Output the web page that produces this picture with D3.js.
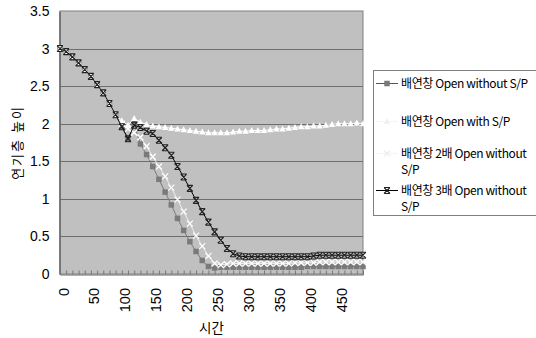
<!DOCTYPE html>
<html>
<head>
<meta charset="utf-8">
<script src="https://cdn.jsdelivr.net/npm/d3@7"></script>
<style>
  body { margin: 0; background: #fff; }
  svg { display: block; }
  text { font-family: "Liberation Sans", Arial, sans-serif; fill: #000; }
  .kr { font-family: "Noto Sans CJK KR", "Noto Sans", sans-serif; }
</style>
</head>
<body>
<svg id="chart" width="536" height="338"></svg>
<script>
// time axis (categories) 0..490 step 10
var times = [0,10,20,30,40,50,60,70,80,90,100,110,120,130,140,150,160,170,180,190,
             200,210,220,230,240,250,260,270,280,290,300,310,320,330,340,350,360,370,380,390,
             400,410,420,430,440,450,460,470,480,490];
var xTickLabels = [0,50,100,150,200,250,300,350,400,450];
var yTicks = [0,0.5,1,1.5,2,2.5,3,3.5];

var seriesNames = ["배연창 Open without S/P", "배연창 Open with S/P",
                   "배연창 2배 Open without S/P", "배연창 3배 Open without S/P"];

var openNoSP = [3.00,2.96,2.89,2.81,2.72,2.63,2.52,2.41,2.27,2.12,
                1.96,1.80,2.00,1.73,1.59,1.43,1.26,1.09,0.92,0.74,
                0.58,0.43,0.30,0.18,0.10,0.08,0.09,0.09,0.09,0.09,
                0.09,0.09,0.09,0.09,0.09,0.09,0.09,0.09,0.09,0.09,
                0.10,0.10,0.10,0.10,0.10,0.10,0.10,0.10,0.10,0.10];
var openSP =   [3.00,2.96,2.89,2.81,2.72,2.63,2.52,2.41,2.27,2.12,
                2.04,1.98,2.07,2.02,1.99,1.97,1.96,1.95,1.94,1.93,
                1.92,1.91,1.90,1.89,1.88,1.88,1.88,1.88,1.89,1.90,
                1.90,1.91,1.91,1.91,1.92,1.93,1.93,1.94,1.95,1.96,
                1.96,1.97,1.97,1.98,1.99,2.00,2.00,2.00,2.01,2.00];
var open2x =   [3.00,2.96,2.89,2.81,2.72,2.63,2.52,2.41,2.27,2.12,
                2.00,1.93,1.88,1.82,1.70,1.56,1.43,1.30,1.15,0.99,
                0.83,0.67,0.51,0.37,0.24,0.14,0.12,0.13,0.14,0.14,
                0.14,0.14,0.14,0.14,0.14,0.14,0.14,0.14,0.15,0.15,
                0.15,0.15,0.16,0.16,0.16,0.16,0.16,0.16,0.16,0.16];
var open3x =   [3.00,2.96,2.89,2.81,2.72,2.63,2.52,2.41,2.27,2.12,
                1.96,1.80,1.98,1.95,1.90,1.87,1.78,1.68,1.58,1.43,
                1.29,1.14,0.98,0.83,0.69,0.56,0.45,0.34,0.27,0.24,
                0.23,0.23,0.23,0.23,0.23,0.23,0.23,0.23,0.23,0.23,
                0.23,0.24,0.25,0.25,0.25,0.25,0.25,0.25,0.25,0.25];

var seriesValues = [openNoSP, openSP, open2x, open3x];
var styles = [
  {line: "#7a7a7a", fill: "#7a7a7a", stroke: "#7a7a7a", marker: "square"},
  {line: "#ffffff", fill: "#ffffff", stroke: "#ffffff", marker: "triangle"},
  {line: "#f0f0f0", fill: "none",    stroke: "#ffffff", marker: "x"},
  {line: "#000000", fill: "none",    stroke: "#222222", marker: "star"}
];

var svg = d3.select("#chart");
var pLeft = 60, pRight = 363, pTop = 11, pBottom = 274;

var x = d3.scalePoint().domain(times).range([pLeft, pRight]);
var y = d3.scaleLinear().domain([0, 3.5]).range([pBottom, pTop]);

// plot background
svg.append("rect")
    .attr("x", pLeft).attr("y", pTop)
    .attr("width", pRight - pLeft).attr("height", pBottom - pTop)
    .attr("fill", "#c0c0c0")
    .attr("stroke", "#808080").attr("stroke-width", 1);

// gridlines
svg.append("g")
  .selectAll("line")
  .data(yTicks.slice(1, -1))
  .enter().append("line")
    .attr("x1", pLeft).attr("x2", pRight)
    .attr("y1", function(d) { return Math.round(y(d)) + 0.5; })
    .attr("y2", function(d) { return Math.round(y(d)) + 0.5; })
    .attr("stroke", "#6e6e6e").attr("stroke-width", 1);

// y axis
var yAxis = svg.append("g")
    .attr("transform", "translate(" + (pLeft - 0.5) + ",0)")
    .call(d3.axisLeft(y).tickValues(yTicks).tickSize(0).tickPadding(10)
          .tickFormat(function(d) { return d; }));
yAxis.select(".domain").attr("stroke", "#666").attr("stroke-width", 1.5);
yAxis.selectAll("text").style("font-size", "14px").style("font-family", "Liberation Sans, Arial, sans-serif");

// x axis (ticks inside, labels rotated)
var xAxis = svg.append("g")
    .attr("transform", "translate(0," + (pBottom + 0.5) + ")")
    .call(d3.axisBottom(x).tickSize(-4).tickFormat(""));
xAxis.select(".domain").attr("stroke", "#666");
xAxis.selectAll(".tick line").attr("stroke", "#777");

svg.append("g")
  .selectAll("text")
  .data(xTickLabels)
  .enter().append("text")
    .attr("transform", function(d) { return "translate(" + (x(d) + 8.5) + "," + (pBottom + 14) + ") rotate(-90)"; })
    .attr("text-anchor", "end")
    .style("font-size", "14.5px")
    .text(function(d) { return d; });

// axis titles
svg.append("text")
    .attr("class", "kr")
    .attr("transform", "translate(22," + ((pTop + pBottom) / 2) + ") rotate(-90)")
    .attr("text-anchor", "middle")
    .style("font-size", "13px")
    .style("letter-spacing", "2px")
    .text("연기층 높이");

svg.append("text")
    .attr("class", "kr")
    .attr("x", (pLeft + pRight) / 2).attr("y", 333)
    .attr("text-anchor", "middle")
    .style("font-size", "13.5px")
    .text("시간");

// markers
function drawMarker(g, type, st) {
  if (type == "square") {
    g.append("rect").attr("x", -2.75).attr("y", -2.75).attr("width", 5.5).attr("height", 5.5)
      .attr("fill", st.fill);
  } else if (type == "triangle") {
    g.append("path").attr("d", "M0,-3.5L3.2,2.5L-3.2,2.5Z").attr("fill", st.fill);
  } else if (type == "x") {
    g.append("path").attr("d", "M-3,-3L3,3M3,-3L-3,3")
      .attr("stroke", st.stroke).attr("stroke-width", 1.2).attr("fill", "none");
  } else {
    g.append("path").attr("d", "M-3,-3L3,3M3,-3L-3,3M-3,-3L3,-3M-3,3L3,3")
      .attr("stroke", st.stroke).attr("stroke-width", 1.1).attr("fill", "none");
  }
}

var line = d3.line()
    .x(function(d, i) { return x(times[i]); })
    .y(function(d) { return y(d); });

seriesValues.map(function(vals, s) {
  var st = styles[s];
  var g = svg.append("g");
  g.append("path")
      .datum(vals)
      .attr("d", line)
      .attr("fill", "none")
      .attr("stroke", st.line)
      .attr("stroke-width", 1);
  vals.map(function(v, i) {
    var m = g.append("g").attr("transform", "translate(" + x(times[i]) + "," + y(v) + ")");
    drawMarker(m, st.marker, st);
  });
});

// legend
var legend = svg.append("g");
legend.append("rect")
    .attr("x", 373.5).attr("y", 70.5).attr("width", 170).attr("height", 145)
    .attr("fill", "#fff").attr("stroke", "#808080");

var legendRows = [
  {lines: ["배연창 Open without S/P"], y: 83},
  {lines: ["배연창 Open with S/P"], y: 121},
  {lines: ["배연창 2배 Open without", "S/P"], y: 153},
  {lines: ["배연창 3배 Open without", "S/P"], y: 190}
];
legendRows.map(function(r, s) {
  var st = styles[s];
  legend.append("line")
      .attr("x1", 376).attr("x2", 398).attr("y1", r.y + 0.5).attr("y2", r.y + 0.5)
      .attr("stroke", s == 0 ? "#555" : (s == 3 ? "#000" : "#f4f4f4")).attr("stroke-width", 1);
  var m = legend.append("g").attr("transform", "translate(387," + (r.y + 0.5) + ")");
  drawMarker(m, st.marker, s == 1 || s == 2 ? {fill: "#f0f0f0", stroke: "#eeeeee"} : st);
  r.lines.map(function(t, k) {
    legend.append("text")
        .attr("class", "kr")
        .attr("x", 401).attr("y", r.y + 4.5 + k * 16.5)
        .style("font-size", "12px")
        .style("letter-spacing", "-0.4px")
        .text(t);
  });
});
</script>
</body>
</html>
